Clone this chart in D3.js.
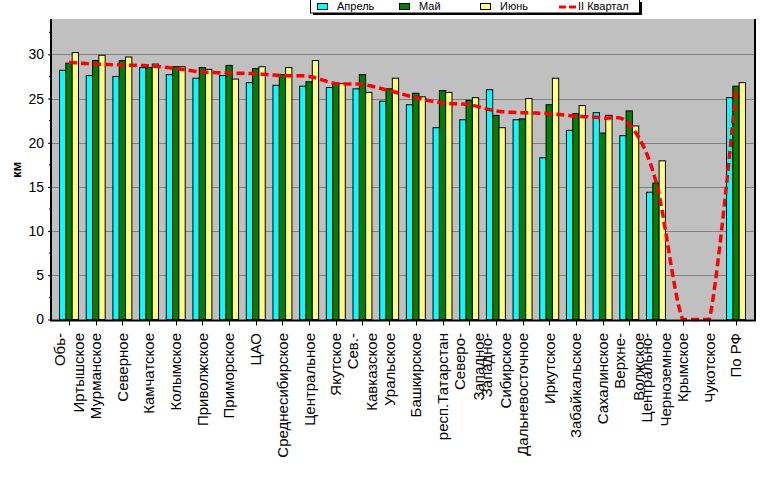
<!DOCTYPE html>
<html>
<head>
<meta charset="utf-8">
<script src="https://cdn.jsdelivr.net/npm/d3@7"></script>
<style>
    body { margin: 0; background: #fff; }
    text { font-family: "Liberation Sans", Arial, sans-serif; }
</style>
</head>
<body>
<div id="chart"></div>
<script>
var categories = ["Обь-\nИртышское", "Мурманское", "Северное", "Камчатское", "Колымское", "Приволжское",
    "Приморское", "ЦАО", "Среднесибирское", "Центральное", "Якутское", "Сев.-\nКавказское", "Уральское",
    "Башкирское", "респ.Татарстан", "Северо-\nЗападное", "Западно-\nСибирское", "Дальневосточное",
    "Иркутское", "Забайкальское", "Сахалинское", "Верхне-\nВолжское", "Центрально-\nЧерноземное",
    "Крымское", "Чукотское", "По РФ"];

var april = [28.2, 27.6, 27.5, 28.5, 27.7, 27.3, 27.6, 26.8, 26.5, 26.4, 26.25, 26.1, 24.7,
    24.3, 21.7, 22.6, 26.0, 22.6, 18.3, 21.4, 23.4, 20.8, 14.4, 0, 0, 25.1];
var may = [29.0, 29.3, 29.3, 28.5, 28.6, 28.5, 28.75, 28.4, 27.7, 26.9, 26.6, 27.7, 26.1,
    25.6, 25.9, 24.8, 23.1, 22.7, 24.3, 23.3, 21.1, 23.6, 15.45, 0, 0, 26.4];
var june = [30.2, 29.9, 29.7, 28.9, 28.6, 28.3, 27.2, 28.6, 28.5, 29.3, 26.7, 25.7, 27.3,
    25.2, 25.7, 25.1, 21.7, 25.0, 27.3, 24.2, 23.1, 21.9, 17.95, 0, 0, 26.8];
var quarter = [29.1, 28.9, 28.8, 28.7, 28.4, 28.0, 27.9, 27.8, 27.6, 27.5, 26.7, 26.6, 25.9,
    25.1, 24.5, 24.3, 23.6, 23.4, 23.3, 23.0, 22.8, 22.1, 15.6, 0, 0, 26.1];

var seriesNames = ["Апрель", "Май", "Июнь"];
var lineName = "II Квартал";
var yTicks = [0, 5, 10, 15, 20, 25, 30];

var width = 777, height = 479;
var plot = {left: 51, right: 754, top: 19, bottom: 319.5};

var svg = d3.select("#chart").append("svg")
    .attr("width", width)
    .attr("height", height);

var x0 = d3.scaleBand()
    .domain(categories)
    .range([plot.left, plot.right])
    .paddingInner(0.29)
    .paddingOuter(0.32);

var x1 = d3.scaleBand()
    .domain(seriesNames)
    .range([0, x0.bandwidth()]);

var y = d3.scaleLinear()
    .domain([0, 34])
    .range([plot.bottom, plot.top]);

var color = d3.scaleOrdinal()
    .domain(seriesNames)
    .range(["#00ffff", "#008000", "#ffff80"]);

// plot area
svg.append("rect")
    .attr("x", plot.left)
    .attr("y", plot.top)
    .attr("width", plot.right - plot.left)
    .attr("height", plot.bottom - plot.top)
    .style("fill", "#c0c0c0");

svg.append("g")
    .attr("class", "grid")
    .selectAll("line")
    .data(yTicks.filter(function (d) { return d > 0; }))
    .enter().append("line")
    .attr("x1", plot.left)
    .attr("x2", plot.right)
    .attr("y1", function (d) { return Math.round(y(d)) + 0.5; })
    .attr("y2", function (d) { return Math.round(y(d)) + 0.5; })
    .style("stroke", "#808080")
    .style("stroke-width", 1);

// bars
var data = categories.map(function (c, i) {
    return {label: c, valores: [
        {name: "Апрель", value: april[i]},
        {name: "Май", value: may[i]},
        {name: "Июнь", value: june[i]}
    ]};
});

var bar = svg.selectAll(".bar")
    .data(data)
    .enter().append("g")
    .attr("class", "bar")
    .attr("transform", function (d) {
        return "translate(" + x0(d.label) + ",0)";
    });

bar.selectAll("rect")
    .data(function (d) { return d.valores.filter(function (v) { return v.value > 0; }); })
    .enter().append("rect")
    .attr("x", function (d) { return x1(d.name); })
    .attr("y", function (d) { return y(d.value); })
    .attr("width", x1.bandwidth())
    .attr("height", function (d) { return plot.bottom - y(d.value); })
    .style("fill", function (d) { return color(d.name); })
    .style("stroke", "#000")
    .style("stroke-width", 1);

// quarter line, smoothed like the spreadsheet; the dip under zero is pinned to the axis
var line = d3.line()
    .x(function (d, i) { return x0(categories[i]) + x0.bandwidth() / 2; })
    .y(function (d) { return y(d); })
    .curve(d3.curveCardinal.tension(0));

var guide = svg.append("path")
    .datum(quarter)
    .attr("d", line)
    .style("fill", "none")
    .style("stroke", "none");

var node = guide.node(), total = node.getTotalLength(), pts = [];
for (var s = 0; s <= total; s += 1) {
    var p = node.getPointAtLength(s);
    pts.push([p.x, Math.min(p.y, plot.bottom)]);
}
var p2 = node.getPointAtLength(total);
pts.push([p2.x, Math.min(p2.y, plot.bottom)]);
guide.remove();

svg.append("path")
    .datum(pts)
    .attr("d", d3.line())
    .style("fill", "none")
    .style("stroke", "#ff0000")
    .style("stroke-width", 3.5)
    .style("stroke-dasharray", "8,4");

// axes
var yAxis = d3.axisLeft(y)
    .tickValues(yTicks)
    .tickSize(3)
    .tickPadding(4);

var gy = svg.append("g")
    .attr("class", "y axis")
    .attr("transform", "translate(" + plot.left + ",0)")
    .call(yAxis);
gy.select(".domain").remove();
gy.selectAll("text").style("font-size", "14px").style("fill", "#000");

svg.append("g")
    .selectAll("line")
    .data(d3.range(2.5, 34, 5))
    .enter().append("line")
    .attr("x1", plot.left - 2)
    .attr("x2", plot.left)
    .attr("y1", function (d) { return y(d); })
    .attr("y2", function (d) { return y(d); })
    .style("stroke", "#000");

svg.append("g")
    .attr("class", "x ticks")
    .selectAll("line")
    .data(categories)
    .enter().append("line")
    .attr("x1", function (d) { return Math.round(x0(d) + x0.bandwidth() / 2) + 0.5; })
    .attr("x2", function (d) { return Math.round(x0(d) + x0.bandwidth() / 2) + 0.5; })
    .attr("y1", plot.bottom)
    .attr("y2", plot.bottom + 6)
    .style("stroke", "#000");

svg.append("line")
    .attr("x1", plot.left).attr("x2", plot.left)
    .attr("y1", plot.top).attr("y2", plot.bottom + 1)
    .style("stroke", "#000").style("stroke-width", 2);
svg.append("line")
    .attr("x1", plot.right + 1).attr("x2", plot.right + 1)
    .attr("y1", plot.top).attr("y2", plot.bottom + 1)
    .style("stroke", "#000").style("stroke-width", 2);
svg.append("line")
    .attr("x1", plot.left - 1).attr("x2", plot.right + 2)
    .attr("y1", plot.bottom + 1).attr("y2", plot.bottom + 1)
    .style("stroke", "#000").style("stroke-width", 2);

// category labels, rotated, lines side by side
var labels = svg.append("g")
    .attr("class", "x labels")
    .selectAll("g")
    .data(categories)
    .enter().append("g")
    .attr("transform", function (d) {
        return "translate(" + (x0(d) + x0.bandwidth() / 2) + "," + 333 + ") rotate(-90)";
    });

labels.each(function (d) {
    var parts = d.split("\n");
    var g = d3.select(this);
    parts.forEach(function (p, k) {
        var off = parts.length > 1 ? (k === 0 ? -9.5 : 9.5) : 0;
        g.append("text")
            .attr("x", 0)
            .attr("y", off)
            .attr("dy", "0.36em")
            .style("text-anchor", "end")
            .style("font-size", "15px")
            .text(p);
    });
});

svg.append("text")
    .attr("transform", "translate(16,170) rotate(-90)")
    .attr("dy", "0.35em")
    .style("text-anchor", "middle")
    .style("font-size", "13px")
    .style("font-weight", "bold")
    .text("км");

// legend
var legend = svg.append("g").attr("class", "legend");

legend.append("rect")
    .attr("x", 313).attr("y", 2)
    .attr("width", 329).attr("height", 13)
    .style("fill", "#000");
legend.append("rect")
    .attr("x", 310.5).attr("y", -0.5)
    .attr("width", 329).attr("height", 13.5)
    .style("fill", "#fff")
    .style("stroke", "#000");

var legendX = [317, 399, 480];
seriesNames.forEach(function (name, i) {
    legend.append("rect")
        .attr("x", legendX[i] + 0.5).attr("y", 3.5)
        .attr("width", 10).attr("height", 6)
        .style("fill", color(name))
        .style("stroke", "#000");
    legend.append("text")
        .attr("x", legendX[i] + 20).attr("y", 6.5)
        .attr("dy", "0.35em")
        .style("font-size", "11px")
        .text(name);
});

legend.append("line")
    .attr("x1", 559).attr("x2", 577)
    .attr("y1", 7).attr("y2", 7)
    .style("stroke", "#ff0000")
    .style("stroke-width", 3)
    .style("stroke-dasharray", "7,3");
legend.append("text")
    .attr("x", 578).attr("y", 6.5)
    .attr("dy", "0.35em")
    .style("font-size", "11px")
    .text(lineName);
</script>
</body>
</html>
